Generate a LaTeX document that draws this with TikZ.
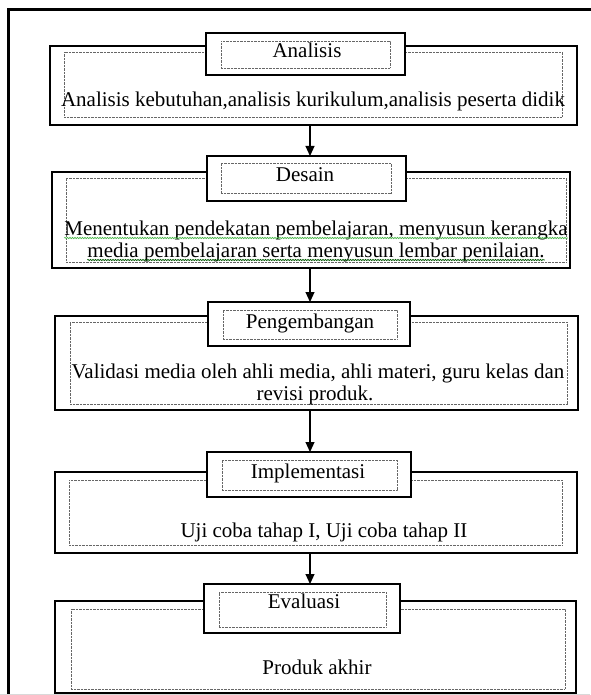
\documentclass[tikz,border=0pt]{standalone}
\usepackage{fontspec}
\setmainfont{Liberation Serif}
\usetikzlibrary{arrows.meta,decorations.pathmorphing}
\begin{document}
\begin{tikzpicture}[x=1pt,y=-1pt,
  bodybox/.style={draw,line width=2.2pt,fill=white,inner sep=0pt,outer sep=0pt},
  titlebox/.style={draw,line width=2.2pt,fill=white,inner sep=0pt,outer sep=0pt},
  dotbox/.style={draw=black!60,line width=0.8pt,dash pattern=on 0.7pt off 0.7pt,inner sep=0pt,outer sep=0pt},
  txt/.style={font=\fontsize{21}{23}\selectfont,inner sep=0pt,anchor=base},
  flow/.style={line width=1.1pt,-{Triangle[width=9pt,length=10pt]}},
  wavy/.style={decorate,decoration={snake,amplitude=0.7pt,segment length=2.5pt},line width=0.6pt}
]
\useasboundingbox (0,0) rectangle (590,695);
\draw[line width=3pt] (8,10) rectangle (640,740);
\draw[black!15,line width=1pt] (0,694.5) -- (590,694.5);
\coordinate (ax) at (310,0);

% Stage 1
\node[bodybox,minimum width=527pt,minimum height=79pt] (b1) at (313.5,85.5) {};
\node[dotbox,minimum width=498pt,minimum height=65pt] (d1) at (313,84.5) {};
\node[titlebox,minimum width=199pt,minimum height=42pt] (t1) at (305.5,54) {};
\node[dotbox,minimum width=169pt,minimum height=27pt] (e1) at (305.5,54.5) {};
\node[txt] (l1) at (307,58) {Analisis};
\node[txt] (x1) at (313,107) {Analisis kebutuhan,analisis kurikulum,analisis peserta didik};

% Stage 2
\node[bodybox,minimum width=518pt,minimum height=96pt] (b2) at (311,220) {};
\node[dotbox,minimum width=500pt,minimum height=84pt] (d2) at (316,220) {};
\node[titlebox,minimum width=199pt,minimum height=45pt] (t2) at (306.5,178.5) {};
\node[dotbox,minimum width=170pt,minimum height=30pt] (e2) at (306,178) {};
\node[txt] (l2) at (305,181) {Desain};
\node[txt] (x2a) at (316,235) {Menentukan pendekatan pembelajaran, menyusun kerangka};
\node[txt] (x2b) at (316,257) {media pembelajaran serta menyusun lembar penilaian.};
\draw[wavy,green!60!black!70] ([yshift=-3pt]x2a.base west) -- ([yshift=-3pt]x2a.base east);
\draw[wavy,green!35!black] ([yshift=-3pt]x2b.base west) -- ([yshift=-3pt]x2b.base east);

% Stage 3
\node[bodybox,minimum width=523pt,minimum height=94pt] (b3) at (316.5,363) {};
\node[dotbox,minimum width=497pt,minimum height=82pt] (d3) at (318.5,363) {};
\node[titlebox,minimum width=202pt,minimum height=44pt] (t3) at (309,324) {};
\node[dotbox,minimum width=174pt,minimum height=29pt] (e3) at (310,324.5) {};
\node[txt] (l3) at (310,328) {Pengembangan};
\node[txt] (x3a) at (318,378) {Validasi media oleh ahli media, ahli materi, guru kelas dan};
\node[txt] (x3b) at (315,400) {revisi produk.};

% Stage 4
\node[bodybox,minimum width=522pt,minimum height=81pt] (b4) at (316,512.5) {};
\node[dotbox,minimum width=493pt,minimum height=65pt] (d4) at (315.5,512.5) {};
\node[titlebox,minimum width=204pt,minimum height=45pt] (t4) at (309,474.5) {};
\node[dotbox,minimum width=175pt,minimum height=30pt] (e4) at (309.5,475) {};
\node[txt] (l4) at (308,478) {Implementasi};
\node[txt] (x4) at (324,537) {Uji coba tahap I, Uji coba tahap II};

% Stage 5
\node[bodybox,minimum width=521pt,minimum height=92pt] (b5) at (315.5,647) {};
\node[dotbox,minimum width=494pt,minimum height=80pt] (d5) at (318,649) {};
\node[titlebox,minimum width=196pt,minimum height=49pt] (t5) at (302,608.5) {};
\node[dotbox,minimum width=167pt,minimum height=35pt] (e5) at (302.5,609.5) {};
\node[txt] (l5) at (304,608) {Evaluasi};
\node[txt] (x5) at (317,674) {Produk akhir};

% Arrows
\draw[flow] (b1.south -| ax) -- (t2.north -| ax);
\draw[flow] (b2.south -| ax) -- (t3.north -| ax);
\draw[flow] (b3.south -| ax) -- (t4.north -| ax);
\draw[flow] (b4.south -| ax) -- (t5.north -| ax);
\end{tikzpicture}
\end{document}
